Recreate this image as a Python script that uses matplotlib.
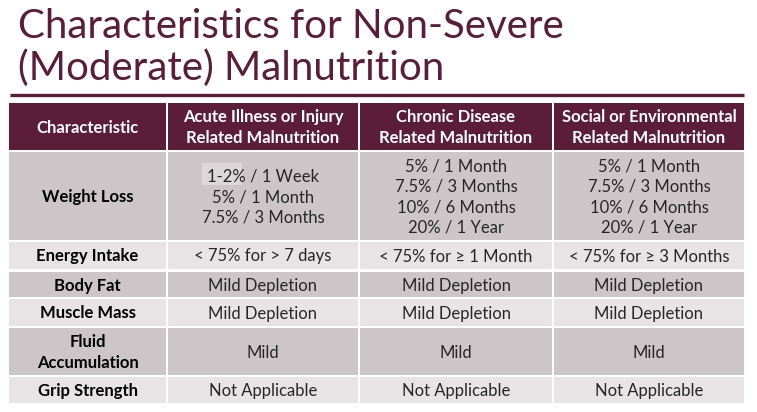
import matplotlib
matplotlib.use("Agg")
from matplotlib import pyplot as plt
from matplotlib.patches import Rectangle

plt.rcParams['font.family'] = ['Lato', 'DejaVu Sans']

# table content
title_lines = ["Characteristics for Non-Severe", "(Moderate) Malnutrition"]
headers = ["Characteristic",
           "Acute Illness or Injury\nRelated Malnutrition",
           "Chronic Disease\nRelated Malnutrition",
           "Social or Environmental\nRelated Malnutrition"]
row_labels = ["Weight Loss", "Energy Intake", "Body Fat", "Muscle Mass",
              "Fluid\nAccumulation", "Grip Strength"]
acute = ["1-2% / 1 Week\n5% / 1 Month\n7.5% / 3 Months",
         "< 75% for > 7 days", "Mild Depletion", "Mild Depletion",
         "Mild", "Not Applicable"]
chronic = ["5% / 1 Month\n7.5% / 3 Months\n10% / 6 Months\n20% / 1 Year",
           "< 75% for \u2265 1 Month", "Mild Depletion", "Mild Depletion",
           "Mild", "Not Applicable"]
social = ["5% / 1 Month\n7.5% / 3 Months\n10% / 6 Months\n20% / 1 Year",
          "< 75% for \u2265 3 Months", "Mild Depletion", "Mild Depletion",
          "Mild", "Not Applicable"]

# layout in pixels
col_edges = [8, 167, 359, 553, 745]
head_span = (103, 150)
row_spans = [(152, 240), (242, 269), (272, 297), (299, 326), (328, 375), (377, 403)]

maroon = "#5b1d38"
dark_row = "#cdc6c9"
light_row = "#e8e4e6"
txt = "#262626"

fig = plt.figure(figsize=(7.57, 4.12), dpi=100)
ax = fig.add_axes([0, 0, 1, 1])
ax.set_xlim(0, 757)
ax.set_ylim(412, 0)
ax.axis("off")

# title + rule
ax.text(18, 38, title_lines[0], fontsize=29, color=maroon, va="baseline", ha="left")
ax.text(18, 80, title_lines[1], fontsize=29, color=maroon, va="baseline", ha="left")
ax.plot([10, 744], [94.5, 94.5], color=maroon, lw=2.4, solid_capstyle="butt")

def cell(x0, x1, y0, y1, color):
    ax.add_patch(Rectangle((x0 + 1, y0), x1 - x0 - 2, y1 - y0, facecolor=color,
                           edgecolor="none"))

# header
for i, h in enumerate(headers):
    x0, x1 = col_edges[i], col_edges[i + 1]
    cell(x0, x1, head_span[0], head_span[1], maroon)
    ax.text((x0 + x1) / 2, sum(head_span) / 2 + 1, h, color="white", fontsize=12,
            fontweight="bold", ha="center", va="center", linespacing=1.35)

# body
columns = [row_labels, acute, chronic, social]
for r, (y0, y1) in enumerate(row_spans):
    color = dark_row if r % 2 == 0 else light_row
    for c in range(4):
        x0, x1 = col_edges[c], col_edges[c + 1]
        cell(x0, x1, y0, y1, color)
        if r == 0 and c == 1:
            # lighter highlight behind "1-2%"
            ax.add_patch(Rectangle((202, 163), 40, 22, facecolor="#dcd7d9",
                                   edgecolor="none"))
        ax.text((x0 + x1) / 2, (y0 + y1) / 2 + 1, columns[c][r],
                color="black" if c == 0 else txt, fontsize=12,
                fontweight="bold" if c == 0 else "normal",
                ha="center", va="center", linespacing=1.4 if c == 0 else 1.33)

fig.savefig("out.png", dpi=100)
